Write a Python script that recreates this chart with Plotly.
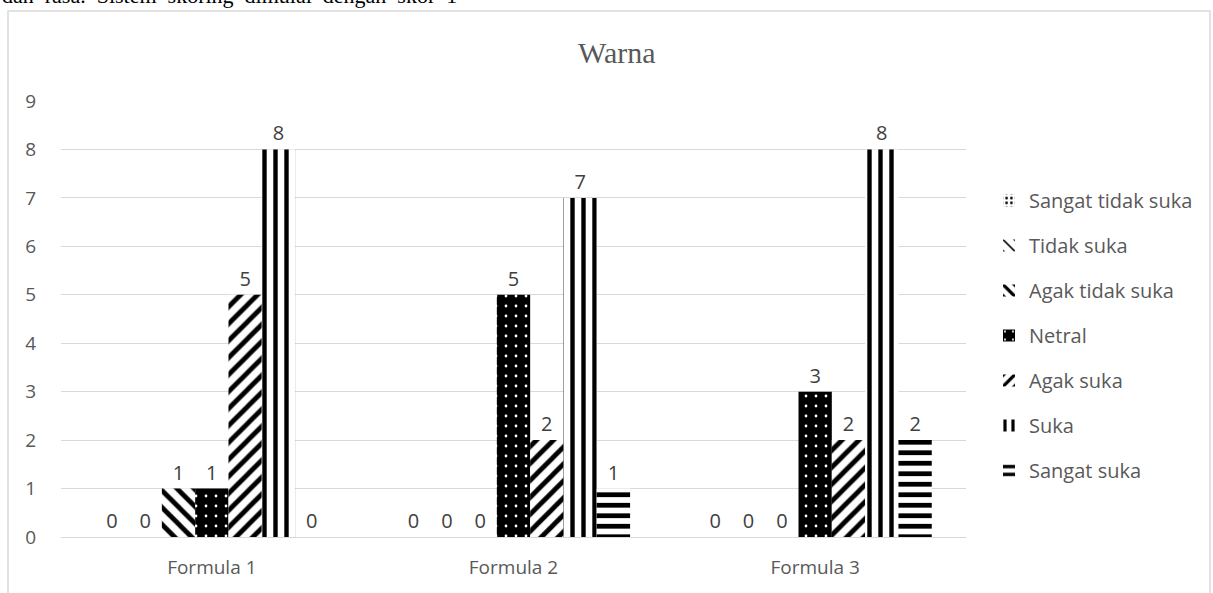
import plotly.graph_objects as go

categories = ["Formula 1", "Formula 2", "Formula 3"]
series_names = ["Sangat tidak suka", "Tidak suka", "Agak tidak suka", "Netral",
                "Agak suka", "Suka", "Sangat suka"]
sangat_tidak_suka = [0, 0, 0]
tidak_suka = [0, 0, 0]
agak_tidak_suka = [1, 0, 0]
netral = [1, 5, 3]
agak_suka = [5, 2, 2]
suka = [8, 7, 8]
sangat_suka = [0, 1, 2]
values = [sangat_tidak_suka, tidak_suka, agak_tidak_suka, netral, agak_suka, suka, sangat_suka]
y_ticks = list(range(0, 10))

styles = [
    dict(shape=".", fg="black", bg="white", size=6, sol=0.25),
    dict(shape="\\", fg="black", bg="white", size=12, sol=0.2),
    dict(shape="\\", fg="black", bg="white", size=12, sol=0.4),
    dict(shape=".", fg="white", bg="black", size=10, sol=0.06),
    dict(shape="/", fg="black", bg="white", size=12, sol=0.4),
    dict(shape="|", fg="black", bg="white", size=11, sol=0.4),
    dict(shape="-", fg="black", bg="white", size=10.5, sol=0.45),
]

W, H = 1213, 593
ML, MR, MT, MB = 61, 247, 101, 56
PW, PH = W - ML - MR, H - MT - MB

def px_x(p):
    return (p - ML) / PW

def px_y(p):
    return (H - MB - p) / PH

FONT = "Open Sans"
fig = go.Figure()
for name, vals, st in zip(series_names, values, styles):
    fig.add_trace(go.Bar(
        x=categories, y=vals, name=name, legendgroup=name,
        text=[str(v) for v in vals], textposition="outside",
        textfont=dict(family=FONT, size=20, color="#404040"),
        marker=dict(color=st["bg"], line=dict(width=18, color="rgba(0,0,0,0)"),
                    pattern=dict(shape=st["shape"], fgcolor=st["fg"], bgcolor=st["bg"],
                                 size=st["size"], solidity=st["sol"], fillmode="replace")),
        cliponaxis=False,
    ))

fig.update_layout(
    width=W, height=H,
    margin=dict(l=ML, r=MR, t=MT, b=MB, autoexpand=False),
    barmode="group", bargap=0.227, bargroupgap=0,
    plot_bgcolor="white", paper_bgcolor="white",
    font=dict(family=FONT, size=20, color="#595959"),
    showlegend=True,
    legend=dict(x=px_x(989), xanchor="left", y=px_y(181), yanchor="top",
                font=dict(family=FONT, size=20, color="#595959"),
                tracegroupgap=16, itemwidth=30, bgcolor="rgba(0,0,0,0)"),
    xaxis=dict(showgrid=False, showline=True, linecolor="#d9d9d9", linewidth=1,
               ticks="outside", ticklen=13, tickcolor="rgba(0,0,0,0)",
               tickfont=dict(family=FONT, size=19, color="#595959")),
    yaxis=dict(range=[0, 9], tickvals=y_ticks, showgrid=True, gridcolor="#d9d9d9",
               gridwidth=1, zeroline=False, showline=False,
               ticks="outside", ticklen=20, tickcolor="rgba(0,0,0,0)",
               tickfont=dict(family=FONT, size=19, color="#595959")),
    shapes=[dict(type="rect", xref="paper", yref="paper",
                 x0=px_x(8), x1=px_x(1210), y0=px_y(620), y1=px_y(11),
                 line=dict(color="#d9d9d9", width=1.5), fillcolor="rgba(0,0,0,0)")],
    annotations=[
        dict(text="Warna", xref="paper", yref="paper", x=px_x(617), y=px_y(52),
             xanchor="center", yanchor="middle", showarrow=False,
             font=dict(family="Liberation Serif", size=30, color="#595959")),
        dict(text="dan  rasa.  Sistem  skoring  dimulai  dengan  skor  1", xref="paper", yref="paper",
             x=px_x(0), y=px_y(-4), xanchor="left", yanchor="middle", showarrow=False,
             font=dict(family="Liberation Serif", size=22, color="black")),
    ],
)

fig.write_html("out.html")
